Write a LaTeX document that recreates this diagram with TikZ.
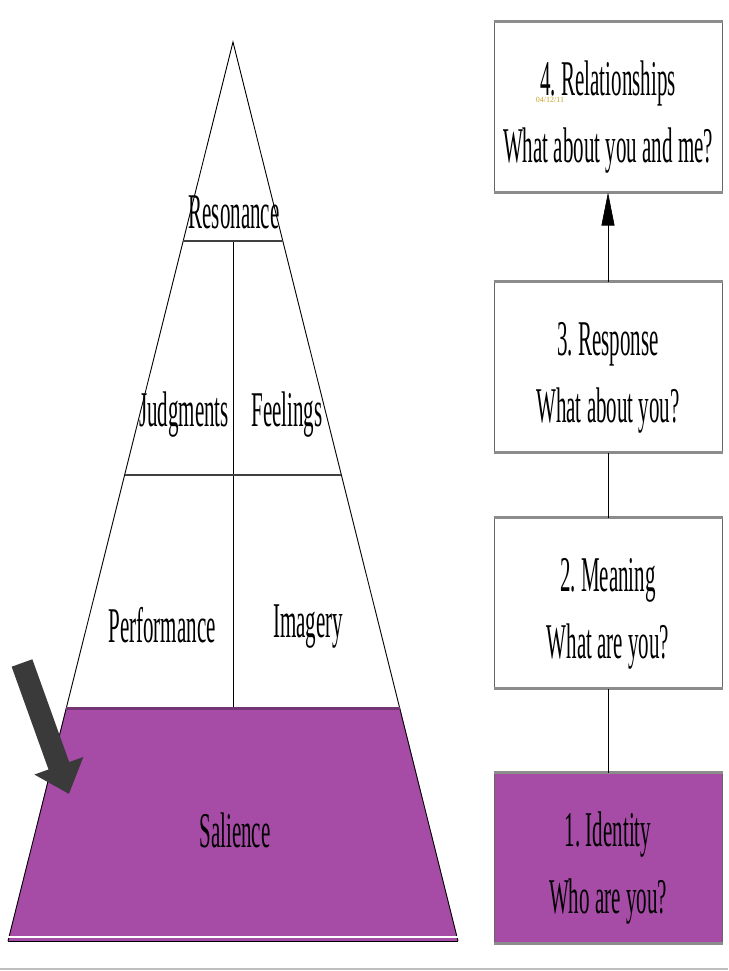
\documentclass[tikz,border=0pt]{standalone}
\usepackage{fontspec}
\setmainfont{Liberation Serif}
\usetikzlibrary{arrows.meta}
\definecolor{salpurple}{HTML}{A64CA6}
\definecolor{darkarrow}{HTML}{3A3A3A}
\definecolor{datecol}{HTML}{C9A227}
\newcommand\bigtxt[1]{\scalebox{0.42}[1]{\fontsize{50}{65}\selectfont #1}}
\newcommand\boxtxt[2]{\scalebox{0.42}[1]{\fontsize{50}{67}\selectfont\begin{tabular}{@{}c@{}}#1\\#2\end{tabular}}}
\tikzset{
  outline/.style={draw=black, line width=0.9},
  sepline/.style={draw=black!75, line width=2.8},
  lbl/.style={inner sep=0pt, text=black},
  stagebox/.style={draw=black!60, line width=1, minimum width=228, minimum height=170, inner sep=0pt, fill=white},
  edgeband/.style={draw=black!45, line width=3},
  link/.style={draw=black, line width=0.6}
}
\begin{document}
\begin{tikzpicture}[x=1pt,y=-1pt]
\useasboundingbox[fill=white] (0,0) rectangle (728,971);
% pyramid
\coordinate (apex) at (233,42);
\coordinate (bl) at (8,941);
\coordinate (br) at (458,941);
\coordinate (sl) at (66,708);
\coordinate (sr) at (400,708);
\coordinate (jl) at (124.6,475);
\coordinate (jr) at (341.4,475);
\coordinate (rl) at (183.2,241);
\coordinate (rr) at (282.8,241);
\coordinate (ctop) at (233,241);
\coordinate (cbot) at (233,708);
\fill[salpurple] (sl) -- (sr) -- (br) -- (bl) -- cycle;
\draw[outline] (bl) -- (apex) -- (br);
\draw[outline] (bl) -- (br);
\draw[link] (ctop) -- (cbot);
\draw[sepline] (rl) -- (rr);
\draw[sepline] (jl) -- (jr);
\draw[draw=salpurple!70!black, line width=3] (sl) -- (sr);
\draw[white, line width=1.5] ([yshift=4]bl) -- ([yshift=4]br);
\node[lbl] (res) at (234,212) {\bigtxt{Resonance}};
\node[lbl] (jud) at (184,415) {\bigtxt{Judgments}};
\node[lbl] (fee) at (287,415) {\bigtxt{Feelings}};
\node[lbl] (per) at (162,625) {\bigtxt{Performance}};
\node[lbl] (ima) at (308,627) {\bigtxt{Imagery}};
\node[lbl] (sal) at (235,830) {\bigtxt{Salience}};
% big arrow
\coordinate (as) at (22,663);
\coordinate (ae) at (69,794);
\draw[darkarrow, line width=22, -{Triangle[length=30pt,width=50pt]}] (as) -- (ae);
% stage boxes
\node[stagebox] (b4) at (608,107) {};
\node[stagebox] (b3) at (608,367) {};
\node[stagebox] (b2) at (608,603) {};
\node[stagebox, fill=salpurple] (b1) at (608,858) {};
\foreach \b in {b4,b3,b2,b1}{
  \draw[edgeband] (\b.north west) -- (\b.north east);
  \draw[edgeband] (\b.south west) -- (\b.south east);
}
\node[lbl] (t4) at ([yshift=-9]b4.center) {\boxtxt{4.\ Relationships}{What about you and me?}};
\node[lbl] (t3) at ([yshift=-9]b3.center) {\boxtxt{3.\ Response}{What about you?}};
\node[lbl] (t2) at ([yshift=-9]b2.center) {\boxtxt{2.\ Meaning}{What are you?}};
\node[lbl] (t1) at ([yshift=-9]b1.center) {\boxtxt{1.\ Identity}{Who are you?}};
\node[lbl, text=datecol] (date) at (550,100) {\fontsize{8}{8}\selectfont 04/12/11};
\draw[link, -{Triangle[length=33pt,width=13pt]}] (b3.north) -- (b4.south);
\draw[link] (b2.north) -- (b3.south);
\draw[link] (b1.north) -- (b2.south);
% bottom rule
\coordinate (rule1) at (0,969);
\coordinate (rule2) at (728,969);
\draw[black!25, line width=2] (rule1) -- (rule2);
\end{tikzpicture}
\end{document}
